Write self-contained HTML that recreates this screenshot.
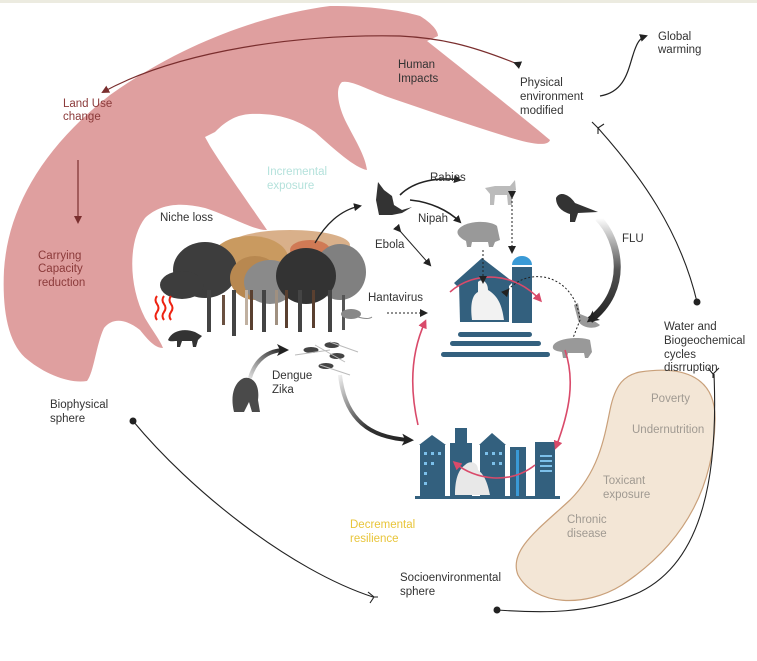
<!DOCTYPE html>
<html><head><meta charset="utf-8"><style>
html,body{margin:0;padding:0;background:#fff;}
svg{display:block;}
text{font-family:"Liberation Sans",sans-serif;font-size:11.5px;}
</style></head><body>
<svg width="757" height="661" viewBox="0 0 757 661" xmlns="http://www.w3.org/2000/svg">
<defs>
<marker id="ah" markerWidth="8" markerHeight="8" refX="6" refY="4" orient="auto" markerUnits="userSpaceOnUse"><path d="M0,0 L8,4 L0,8 Z" fill="#222"/></marker>
<marker id="ahr" markerWidth="8" markerHeight="8" refX="6" refY="4" orient="auto" markerUnits="userSpaceOnUse"><path d="M0,0 L8,4 L0,8 Z" fill="#7a2e2e"/></marker>
<marker id="ahp" markerWidth="9" markerHeight="9" refX="6" refY="4.5" orient="auto" markerUnits="userSpaceOnUse"><path d="M0,0 L9,4.5 L0,9 Z" fill="#d94a6a"/></marker>
<marker id="ahb" markerWidth="12" markerHeight="12" refX="8" refY="6" orient="auto" markerUnits="userSpaceOnUse"><path d="M0,0 L12,6 L0,12 L3,6 Z" fill="#222"/></marker>
<marker id="dot" markerWidth="8" markerHeight="8" refX="4" refY="4" markerUnits="userSpaceOnUse"><circle cx="4" cy="4" r="3.5" fill="#222"/></marker>
<linearGradient id="gflu" x1="0" y1="0" x2="0" y2="1"><stop offset="0" stop-color="#fff"/><stop offset="0.5" stop-color="#555"/><stop offset="1" stop-color="#222"/></linearGradient>
<linearGradient id="gdz" x1="0" y1="0" x2="1" y2="1"><stop offset="0" stop-color="#eee"/><stop offset="0.6" stop-color="#333"/><stop offset="1" stop-color="#222"/></linearGradient>
<linearGradient id="ggor" x1="0" y1="1" x2="1" y2="0"><stop offset="0" stop-color="#ddd"/><stop offset="1" stop-color="#222"/></linearGradient>
</defs>
<rect x="0" y="0" width="757" height="3" fill="#ecebe0"/>

<path d="M330,6 C370,6 400,10 420,16 C430,22 438,30 438,36 L427,41 C470,75 520,115 550,140 C548,147 530,144 505,136 C460,122 420,108 385,96 C365,88 350,80 342,82 C335,88 338,105 345,120 C355,140 365,155 367,170 C355,168 335,150 315,132 C295,118 275,113 250,114 C235,115 225,122 215,132 L205,137 L210,146 C225,170 250,205 267,230 C255,231 230,216 205,208 C180,202 160,204 145,218 C128,240 128,285 145,318 C152,330 160,340 163,348 C155,348 148,340 140,330 C125,318 112,318 104,328 C96,345 94,372 87,381 C70,384 45,374 28,360 C8,345 2,310 4,270 C8,210 40,150 110,95 C180,45 260,15 330,6 Z" fill="#df9f9f"/>

<path d="M515,63 C470,45 440,38 400,36 C300,34 180,50 103,92" fill="none" stroke="#7a2e2e" stroke-width="1.2" marker-start="url(#ah)" marker-end="url(#ahr)"/>
<path d="M78,160 L78,222" stroke="#7a2e2e" stroke-width="1.2" marker-end="url(#ahr)"/>

<path d="M640,372 C685,365 716,378 715,420 C714,480 690,540 622,585 C585,608 535,606 518,575 C508,550 540,528 570,500 C598,472 604,440 610,410 C615,385 624,375 640,372 Z" fill="#f3e6d6" stroke="#c9a07a" stroke-width="1.2"/>

<path d="M600,96 C625,92 628,70 633,55 C637,42 640,38 646,36" fill="none" stroke="#222" stroke-width="1.2" marker-end="url(#ah)"/>
<path d="M598,128 C640,175 680,230 697,302" fill="none" stroke="#222" stroke-width="1.1" marker-end="url(#dot)"/>
<path d="M592,122 L598,128 L598,134 M598,128 L604,124" fill="none" stroke="#222" stroke-width="1.1"/>
<path d="M714,374 C718,470 705,560 640,592 C590,615 540,613 497,610" fill="none" stroke="#222" stroke-width="1.1" marker-end="url(#dot)"/>
<path d="M708,368 L713,374 L719,368 M713,374 L713,378" fill="none" stroke="#222" stroke-width="1.1"/>
<path d="M133,421 C190,490 290,570 373,597" fill="none" stroke="#222" stroke-width="1.1" marker-start="url(#dot)"/>
<path d="M368,592 L374,597 L370,603 M374,597 L378,597" fill="none" stroke="#222" stroke-width="1.1"/>

<!-- trees -->
<g>
<ellipse cx="290" cy="245" rx="60" ry="15" fill="#d9b08a"/>
<ellipse cx="250" cy="258" rx="38" ry="22" fill="#c99a60"/>
<ellipse cx="310" cy="250" rx="20" ry="10" fill="#d07a55"/>
<ellipse cx="205" cy="270" rx="32" ry="28" fill="#3d3d3d"/>
<ellipse cx="182" cy="285" rx="22" ry="14" fill="#3d3d3d"/>
<ellipse cx="255" cy="278" rx="25" ry="22" fill="#b88850"/>
<ellipse cx="340" cy="272" rx="26" ry="28" fill="#808080"/>
<ellipse cx="270" cy="282" rx="26" ry="22" fill="#8a8a8a"/>
<ellipse cx="306" cy="276" rx="30" ry="28" fill="#333"/>
<g fill="#444">
<rect x="207" y="290" width="4" height="42"/><rect x="232" y="290" width="4" height="46"/><rect x="222" y="295" width="3" height="30" fill="#6a5040"/>
<rect x="250" y="290" width="3" height="40" fill="#5a4030"/><rect x="262" y="290" width="4" height="42"/><rect x="275" y="290" width="3" height="35" fill="#a09080"/>
<rect x="285" y="290" width="3" height="38" fill="#5a4030"/><rect x="298" y="290" width="4" height="42"/><rect x="312" y="290" width="3" height="38" fill="#5a4030"/>
<rect x="328" y="290" width="4" height="42"/><rect x="245" y="290" width="3" height="35" fill="#c0b0a0"/><rect x="342" y="295" width="3" height="35" fill="#555"/>
</g>
</g>
<g fill="none" stroke="#e21" stroke-width="2">
<path d="M157,320 q-3,-4 0,-8 q3,-4 0,-8 q-3,-4 0,-8"/><path d="M164,320 q-3,-4 0,-8 q3,-4 0,-8 q-3,-4 0,-8"/><path d="M171,320 q-3,-4 0,-8 q3,-4 0,-8 q-3,-4 0,-8"/>
</g>
<path d="M168,340 C172,330 185,328 195,332 L202,336 L198,340 L196,347 L193,347 L192,341 L182,341 L180,347 L177,347 L177,341 C173,341 170,342 168,340 Z" fill="#333"/>
<ellipse cx="351" cy="314" rx="10" ry="5" fill="#888"/><path d="M358,317 q10,3 14,0" stroke="#888" fill="none"/>
<path d="M234,412 C230,396 234,382 244,378 C253,376 260,385 258,400 L260,412 L252,412 L249,402 L244,412 Z" fill="#4a4a4a"/>
<g stroke="#444" stroke-width="1" fill="#444">
<ellipse cx="311" cy="350" rx="7" ry="2.5"/><ellipse cx="332" cy="345" rx="7" ry="2.5"/><ellipse cx="337" cy="356" rx="7" ry="2.5"/><ellipse cx="326" cy="366" rx="7" ry="2.5"/>
<path d="M295,355 L330,350 M315,345 L345,362 M320,365 L350,375 M330,342 L358,352" fill="none" stroke="#bbb"/>
</g>
<path d="M378,182 L384,190 L392,196 L394,205 L402,210 L412,207 L402,213 L392,215 L379,215 L376,200 Z" fill="#333"/>
<path d="M485,188 L495,186 L510,186 L515,180 L516,190 L512,192 L512,205 L508,205 L507,195 L495,195 L494,205 L490,205 L490,194 Z" fill="#bbb"/>
<path d="M458,230 C465,220 490,220 497,226 L500,240 L495,242 L493,247 L489,247 L488,242 L472,242 L471,247 L467,247 L466,241 C460,238 456,234 458,230 Z" fill="#999"/>
<path d="M556,198 C560,190 570,195 575,203 L598,212 L578,213 L575,222 L570,222 L570,214 C563,212 556,207 556,198 Z" fill="#333"/>
<path d="M574,305 L578,320 C580,328 595,330 600,325 L590,318 L580,314 L578,303 Z" fill="#999"/>
<path d="M553,346 C556,338 580,336 590,340 L592,352 L588,358 L585,358 L584,353 L568,353 L567,358 L563,358 L562,352 C556,351 552,350 553,346 Z" fill="#999"/>

<g fill="#33607e">
<path d="M459,283 L482,263 L509,282 L509,322 L460,322 Z"/>
<path d="M454,283 L482,258 L513,282 L509,286 L482,266 L458,287 Z"/>
<rect x="512" y="267" width="20" height="56"/>
<rect x="458" y="332" width="74" height="5" rx="2.5"/>
<rect x="450" y="341" width="91" height="5" rx="2.5"/>
<rect x="441" y="352" width="109" height="5" rx="2.5"/>
</g>
<path d="M512,265 A10,9 0 0 1 532,265 Z" fill="#3a9ad6"/>
<path d="M472,320 C470,305 472,295 478,292 L478,282 C482,278 488,282 488,290 C498,296 502,305 504,320 Z" fill="#f2f2f2"/>
<g fill="#33607e">
<rect x="420" y="445" width="25" height="52"/><path d="M419,445 L432,435 L446,445 Z"/>
<rect x="450" y="443" width="22" height="54"/><rect x="455" y="428" width="12" height="15"/>
<rect x="480" y="445" width="25" height="52"/><path d="M479,445 L492,433 L506,445 Z"/>
<rect x="510" y="447" width="16" height="50"/>
<rect x="535" y="442" width="20" height="55"/>
<rect x="415" y="496" width="145" height="3"/>
</g>
<g fill="#7cc0ea"><rect x="424" y="452" width="3" height="3"/><rect x="431" y="452" width="3" height="3"/><rect x="438" y="452" width="3" height="3"/><rect x="424" y="462" width="3" height="3"/><rect x="431" y="462" width="3" height="3"/><rect x="424" y="472" width="3" height="3"/><rect x="424" y="482" width="3" height="3"/><rect x="485" y="452" width="3" height="3"/><rect x="492" y="452" width="3" height="3"/><rect x="499" y="452" width="3" height="3"/><rect x="492" y="462" width="3" height="3"/><rect x="499" y="462" width="3" height="3"/></g>
<path d="M455,495 C455,480 458,470 465,465 C470,460 478,462 478,470 C485,475 488,485 490,495 Z" fill="#e8e8e8"/>
<rect x="516" y="450" width="3" height="46" fill="#3a9ad6"/>
<g fill="#7cc0ea"><rect x="540" y="455" width="12" height="2"/><rect x="540" y="460" width="12" height="2"/><rect x="540" y="465" width="12" height="2"/><rect x="540" y="470" width="12" height="2"/></g>

<g fill="none" stroke="#d94a6a" stroke-width="1.6">
<path d="M450,292 C475,270 515,272 540,300" marker-end="url(#ahp)"/>
<path d="M418,425 C410,390 410,355 425,322" marker-end="url(#ahp)"/>
<path d="M565,350 C575,380 570,410 556,447" marker-end="url(#ahp)"/>
<path d="M535,465 C510,485 475,480 455,463" marker-end="url(#ahp)"/>
</g>

<g fill="none" stroke="#222">
<path d="M315,243 C325,225 340,210 360,206" stroke-width="1.3" marker-end="url(#ah)"/>
<path d="M400,195 C415,180 440,177 460,180" stroke-width="1.6" marker-end="url(#ah)"/>
<path d="M410,200 C430,202 448,210 460,222" stroke-width="1.6" marker-end="url(#ah)"/>
<path d="M400,231 L430,265" stroke-width="1" marker-start="url(#ah)" marker-end="url(#ah)"/>
<path d="M387,313 L426,313" stroke-width="1" stroke-dasharray="2,2" marker-end="url(#ah)"/>
<path d="M483,250 L483,282" stroke-width="1" stroke-dasharray="2,2" marker-end="url(#ah)"/>
<path d="M512,197 L512,252" stroke-width="1" stroke-dasharray="2,2" marker-start="url(#ah)" marker-end="url(#ah)"/>
<path d="M508,290 C530,265 575,275 580,320 L573,338" stroke-width="1" stroke-dasharray="2,2" marker-start="url(#ah)"/>
</g>
<path d="M250,378 C255,360 268,350 285,350" fill="none" stroke="url(#ggor)" stroke-width="4" marker-end="url(#ahb)"/>
<path d="M340,375 C345,420 370,438 410,440" fill="none" stroke="url(#gdz)" stroke-width="4" marker-end="url(#ahb)"/>
<path d="M598,218 C620,240 630,290 590,320" fill="none" stroke="url(#gflu)" stroke-width="7" marker-end="url(#ahb)"/>

<g fill="#333">
<text x="398" y="68">Human</text><text x="398" y="82">Impacts</text>
<text x="520" y="86">Physical</text><text x="520" y="100">environment</text><text x="520" y="114">modified</text>
<text x="658" y="40">Global</text><text x="658" y="53">warming</text>
<text x="160" y="221">Niche loss</text>
<text x="430" y="181">Rabies</text>
<text x="418" y="222">Nipah</text>
<text x="375" y="248">Ebola</text>
<text x="368" y="301">Hantavirus</text>
<text x="622" y="242">FLU</text>
<text x="272" y="379">Dengue</text><text x="272" y="393">Zika</text>
<text x="50" y="408">Biophysical</text><text x="50" y="422">sphere</text>
<text x="664" y="330">Water and</text><text x="664" y="344">Biogeochemical</text><text x="664" y="358">cycles</text><text x="664" y="371">disrruption</text>
<text x="400" y="581">Socioenvironmental</text><text x="400" y="595">sphere</text>
</g>
<g fill="#8b3a3a">
<text x="63" y="107">Land Use</text><text x="63" y="120">change</text>
<text x="38" y="259">Carrying</text><text x="38" y="272">Capacity</text><text x="38" y="286">reduction</text>
</g>
<g fill="#b5e2dc"><text x="267" y="175">Incremental</text><text x="267" y="189">exposure</text></g>
<g fill="#e8c53a"><text x="350" y="528">Decremental</text><text x="350" y="542">resilience</text></g>
<g fill="#a09a92">
<text x="651" y="402">Poverty</text>
<text x="632" y="433">Undernutrition</text>
<text x="603" y="484">Toxicant</text><text x="603" y="498">exposure</text>
<text x="567" y="523">Chronic</text><text x="567" y="537">disease</text>
</g>
</svg>
</body></html>
